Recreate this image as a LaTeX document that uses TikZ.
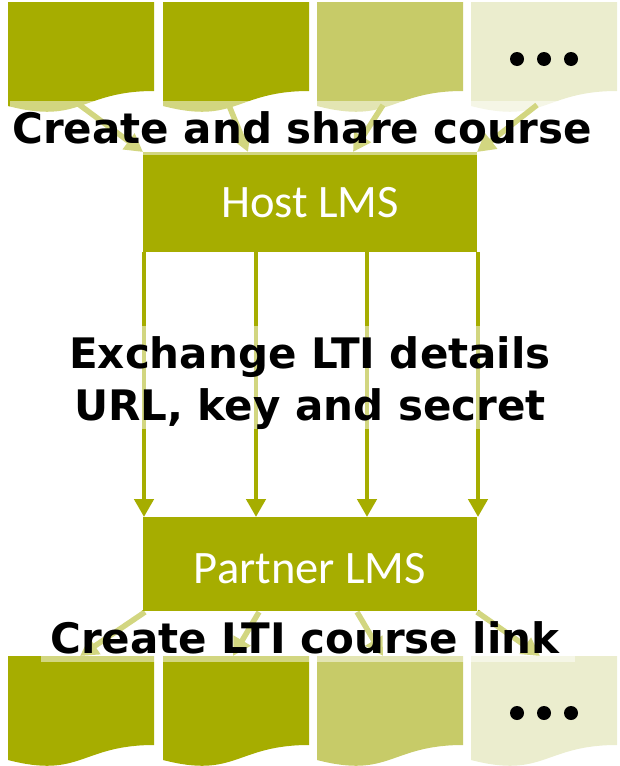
\documentclass[tikz,border=0pt]{standalone}
\usepackage{fontspec}
\usetikzlibrary{arrows.meta}
\newfontfamily\lblfont{DejaVu Sans}
\newfontfamily\boxfont{Carlito}
\definecolor{olv}{RGB}{166,173,0}
\definecolor{olvmid}{RGB}{199,203,104}
\definecolor{olvlt}{RGB}{235,237,206}
\tikzset{
 arr/.style={draw=olv, line width=5.5pt, -{Triangle[length=18pt,width=19pt]}},
 varr/.style={arr, line width=4.5pt},
 lms/.style={fill=olv, draw=none, minimum width=334pt, inner sep=0pt, anchor=north west},
 lmstext/.style={text=white, font=\boxfont\fontsize{46.5}{50}\selectfont, anchor=base, inner sep=0pt},
 captext/.style={font=\lblfont\bfseries\fontsize{42}{48}\selectfont, anchor=base, inner sep=0pt, text=black},
 veil/.style={fill=white, fill opacity=0.5, draw=none},
 dotc/.style={fill=black, circle, inner sep=0pt, minimum size=14pt}
}
\newcommand\docshape[3]{%
 \begin{scope}[shift={(#1,#2)}]
 \fill[#3] (0,0) -- (146,0) -- (146,89) .. controls (73,89) and (73,123) .. (0,104) -- cycle;
 \end{scope}}
\begin{document}
\begin{tikzpicture}[x=1pt,y=-1pt]
\useasboundingbox (0,0) rectangle (620,766);
% top documents
\docshape{8}{2}{olv}
\docshape{163}{2}{olv}
\docshape{317}{2}{olvmid}
\docshape{471}{2}{olvlt}
% bottom documents
\docshape{8}{656}{olv}
\docshape{163}{656}{olv}
\docshape{317}{656}{olvmid}
\docshape{471}{656}{olvlt}
% LMS boxes
\node[lms, minimum height=100pt] (host) at (143,152) {};
\node[lms, minimum height=94pt] (partner) at (143,517) {};
\node[lmstext] (hostlbl) at (310,217) {Host LMS};
\node[lmstext] (partnerlbl) at (310,583) {Partner LMS};
% arrow end points
\coordinate (s1) at (77,103);
\coordinate (s2) at (228,103);
\coordinate (s3) at (383,105);
\coordinate (s4) at (537,105);
\coordinate (h1) at (143,152);
\coordinate (h2) at (248,152);
\coordinate (h3) at (353,152);
\coordinate (h4) at (477,152);
\coordinate (v1) at (144,252);
\coordinate (v2) at (256,252);
\coordinate (v3) at (367,252);
\coordinate (v4) at (478,252);
\coordinate (w1) at (144,517);
\coordinate (w2) at (256,517);
\coordinate (w3) at (367,517);
\coordinate (w4) at (478,517);
\coordinate (p1) at (145,612);
\coordinate (p2) at (259,612);
\coordinate (p3) at (357,612);
\coordinate (p4) at (477,612);
\coordinate (b1) at (80,656);
\coordinate (b2) at (233,656);
\coordinate (b3) at (383,656);
\coordinate (b4) at (540,656);
\foreach \i in {1,2,3,4}{
 \draw[arr] (s\i) -- (h\i);
 \draw[varr] (v\i) -- (w\i);
 \draw[arr] (p\i) -- (b\i);
}
% translucent label backgrounds
\fill[veil] (10,101) rectangle (618,155);
\fill[veil] (52,326) rectangle (568,429);
\fill[veil] (41,611) rectangle (575,662);
% labels
\node[captext] (t1) at (302,143) {Create and share course};
\node[captext] (t2) at (310,368) {Exchange LTI details};
\node[captext] (t3) at (310,420) {URL, key and secret};
\node[captext] (t4) at (305,653) {Create LTI course link};
% ellipsis dots
\foreach \x [count=\k] in {517,544,571}{
 \node[dotc] (dt\k) at (\x,59) {};
 \node[dotc] (db\k) at (\x,713) {};
}
\end{tikzpicture}
\end{document}
